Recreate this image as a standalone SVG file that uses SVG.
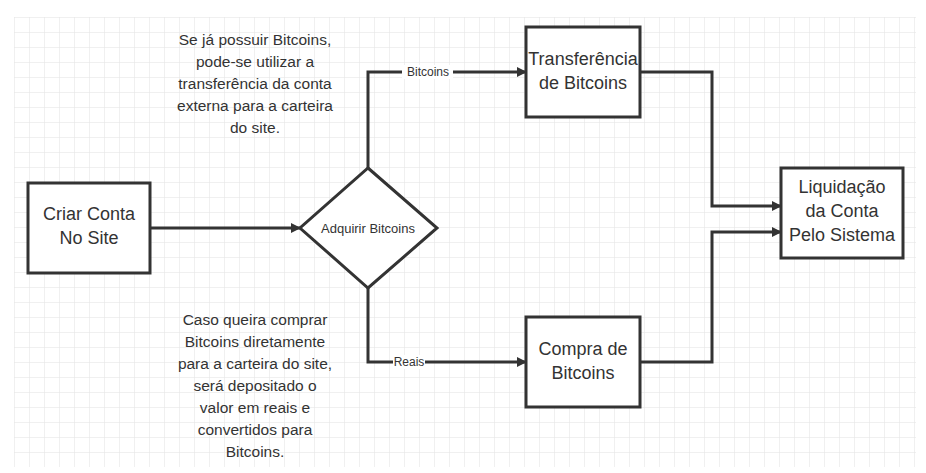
<svg xmlns="http://www.w3.org/2000/svg" width="926" height="473" viewBox="0 0 926 473">
<defs>
<pattern id="g" x="14" y="17" width="15" height="15" patternUnits="userSpaceOnUse"><path d="M0 0H15M0 0V15" stroke="#e2e2e2" stroke-width="1" fill="none"/></pattern>
<marker id="a" markerWidth="10" markerHeight="10" refX="9" refY="5" orient="auto" markerUnits="userSpaceOnUse"><path d="M0 0L10 5L0 10Z" fill="#333"/></marker>
<style>
.n{fill:#fff;stroke:#333;stroke-width:3}
.c{fill:none;stroke:#333;stroke-width:3;marker-end:url(#a)}
text{font-family:"Liberation Sans",Arial,sans-serif;fill:#333;text-anchor:middle}
.t{font-size:18px}.s{font-size:13px}.l{font-size:12px}.b{font-size:15.5px}
.lb{fill:#fff;stroke:none}
</style>
</defs>
<rect width="926" height="473" fill="#fff"/>
<rect x="14" y="17" width="902" height="450" fill="url(#g)"/>
<g id="connectors">
<path class="c" d="M150 228H300"/>
<path class="c" d="M368 168V72H526"/>
<path class="c" d="M368 288V362H526"/>
<path class="c" d="M640 72H712V206H781"/>
<path class="c" d="M640 362H712V232H781"/>
<rect class="lb" x="402" y="65" width="51" height="14"/>
<text class="l" x="428" y="76">Bitcoins</text>
<rect class="lb" x="393" y="355" width="32" height="14"/>
<text class="l" x="409" y="366">Reais</text>
</g>
<g id="criar"><rect class="n" x="28" y="183" width="122" height="90"/><text class="t" x="89" y="220">Criar Conta</text><text class="t" x="89" y="244">No Site</text></g>
<g id="adquirir"><path class="n" d="M368 168L437 228L368 288L300 228Z"/><text class="s" x="368" y="233">Adquirir Bitcoins</text></g>
<g id="transferencia"><rect class="n" x="526" y="27" width="114" height="90"/><text class="t" x="583" y="65">Transferência</text><text class="t" x="583" y="89">de Bitcoins</text></g>
<g id="compra"><rect class="n" x="526" y="317" width="114" height="90"/><text class="t" x="583" y="355">Compra de</text><text class="t" x="583" y="379">Bitcoins</text></g>
<g id="liquidacao"><rect class="n" x="781" y="168" width="122" height="90"/><text class="t" x="842" y="193">Liquidação</text><text class="t" x="842" y="217">da Conta</text><text class="t" x="842" y="241">Pelo Sistema</text></g>
<g id="nota1"><text class="b" x="255" y="45">Se já possuir Bitcoins,</text><text class="b" x="255" y="67">pode-se utilizar a</text><text class="b" x="255" y="89">transferência da conta</text><text class="b" x="255" y="111">externa para a carteira</text><text class="b" x="255" y="133">do site.</text></g>
<g id="nota2"><text class="b" x="255" y="325">Caso queira comprar</text><text class="b" x="255" y="347">Bitcoins diretamente</text><text class="b" x="255" y="369">para a carteira do site,</text><text class="b" x="255" y="391">será depositado o</text><text class="b" x="255" y="413">valor em reais e</text><text class="b" x="255" y="435">convertidos para</text><text class="b" x="255" y="457">Bitcoins.</text></g>
</svg>
